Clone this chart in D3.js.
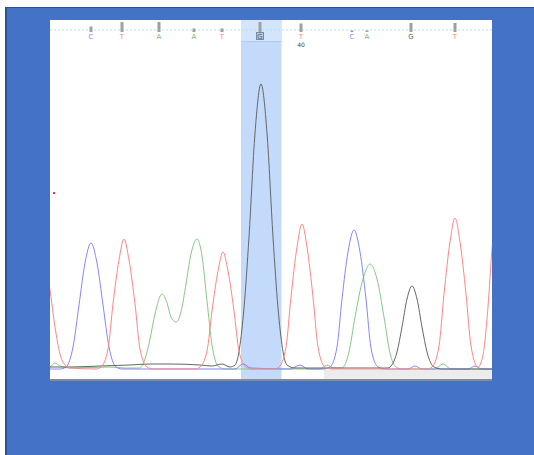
<!DOCTYPE html>
<html>
<head>
<meta charset="utf-8">
<script src="https://cdn.jsdelivr.net/npm/d3@7"></script>
<style>
  html, body { margin: 0; padding: 0; background: #fff; }
  svg { display: block; }
  text { font-family: "DejaVu Sans", sans-serif; }
</style>
</head>
<body>
<div class="plot"></div>
<script>
// base calls along the top
var bases = ["C", "T", "A", "A", "T", "G", "T", "C", "A", "G", "T"];
var basePos = [41, 72, 109, 144, 172, 210, 251, 302, 317, 361, 405];
var baseQual = [22, 40, 40, 14, 14, 40, 34, 6, 6, 36, 36];
var positionLabels = [{index: 6, label: "40"}];
var selectedBase = 5;

// trace key points: [scan, signal]
var traceA = [[-10, 0], [0, 2], [5, 6], [10, 3], [20, 1], [60, 2], [75, 1], [89, 1], [95, 10], [100, 30], [105, 55],
  [112, 75], [117, 66], [121, 52], [126, 47], [131, 57], [136, 85], [141, 115], [147, 130], [152, 113],
  [157, 68], [162, 24], [168, 3], [175, 0], [270, 0], [277, 4], [284, 1], [292, 1], [299, 17], [305, 52],
  [313, 90], [320, 105], [327, 90], [334, 52], [340, 16], [346, 2], [352, 0], [385, 0], [393, 5], [401, 0], [445, 0]];
var traceC = [[-10, 0], [10, 0], [16, 2], [23, 22], [29, 64], [35, 106], [41, 126], [47, 106], [53, 64], [59, 22],
  [66, 2], [72, 0], [185, 0], [193, 5], [201, 1], [240, 0], [250, 4], [258, 0], [274, 0], [280, 2], [287, 22],
  [292, 70], [298, 117], [304, 139], [310, 117], [316, 70], [321, 21], [328, 2], [335, 0], [358, 0],
  [365, 3], [372, 0], [418, 0], [425, 3], [432, 0], [445, 0]];
var traceG = [[-10, 2], [20, 2], [50, 3], [80, 4], [100, 5], [120, 5], [150, 4], [162, 3], [172, 5], [180, 2],
  [185, 4], [194, 61], [199, 132], [205, 236], [211, 285], [217, 236], [223, 132], [228, 61], [237, 4],
  [245, 1], [300, 1], [338, 1], [340, 2], [347, 17], [352, 42], [357, 70], [362, 83], [367, 70], [372, 42],
  [377, 17], [384, 2], [392, 0], [445, 0]];
var traceT = [[-12, 140], [-5, 108], [0, 79], [5, 42], [10, 15], [15, 4], [20, 1], [46, 0], [51, 2], [58, 20],
  [63, 65], [69, 109], [74, 130], [79, 109], [85, 65], [90, 20], [97, 2], [103, 0], [145, 0], [150, 2],
  [157, 18], [162, 58], [168, 98], [173, 117], [178, 98], [184, 58], [189, 18], [196, 2], [202, 0],
  [224, 0], [229, 2], [236, 22], [241, 72], [247, 122], [252, 145], [257, 122], [263, 72], [268, 22],
  [275, 2], [281, 0], [377, 0], [382, 2], [389, 23], [394, 75], [400, 127], [405, 151], [410, 127],
  [416, 75], [421, 23], [428, 2], [433, 14], [438, 62], [442, 120], [448, 160], [454, 120]];

var traces = [
  {name: "A", points: traceA, color: "#86c986"},
  {name: "C", points: traceC, color: "#8686ff"},
  {name: "G", points: traceG, color: "#666666"},
  {name: "T", points: traceT, color: "#ff8585"}
];
var baseColor = {A: "#6cbf6c", C: "#8a8aff", G: "#666666", T: "#ff7f7f"};

var width = 534, height = 455;
var panel = {left: 50, right: 492, top: 20, bottom: 381};

var x = d3.scaleLinear().domain([0, 442]).range([panel.left, panel.right]);
var y = d3.scaleLinear().domain([0, 300]).range([369, 69]);
var q = d3.scaleLinear().domain([0, 40]).range([0, 10]);

var svg = d3.select(".plot").append("svg")
    .attr("width", width)
    .attr("height", height);

// blue frame
svg.append("rect")
    .attr("x", 5).attr("y", 7)
    .attr("width", width - 5).attr("height", height - 7)
    .attr("fill", "#4472c4");
svg.append("rect").attr("x", 5).attr("y", 7).attr("width", 2).attr("height", height - 7).attr("fill", "#2f528f");
svg.append("rect").attr("x", 5).attr("y", 7).attr("width", width - 5).attr("height", 1).attr("fill", "#2f528f");

// white panel
svg.append("rect")
    .attr("x", panel.left).attr("y", panel.top)
    .attr("width", panel.right - panel.left).attr("height", panel.bottom - panel.top)
    .attr("fill", "#fff");

svg.append("clipPath").attr("id", "clip")
  .append("rect")
    .attr("x", panel.left).attr("y", panel.top)
    .attr("width", panel.right - panel.left).attr("height", panel.bottom - panel.top);

// highlighted base column
var hx0 = x((basePos[selectedBase - 1] + basePos[selectedBase]) / 2),
    hx1 = x((basePos[selectedBase] + basePos[selectedBase + 1]) / 2) + 1;
svg.append("rect")
    .attr("x", hx0).attr("y", panel.top)
    .attr("width", hx1 - hx0).attr("height", 360)
    .attr("fill", "#c3dafa");
svg.append("rect")
    .attr("x", hx0).attr("y", panel.top)
    .attr("width", hx1 - hx0).attr("height", 21)
    .attr("fill", "#d3e4fb");
svg.append("line")
    .attr("x1", hx0).attr("x2", hx1)
    .attr("y1", 41.5).attr("y2", 41.5)
    .attr("stroke", "#b3cbec");

// scroll strip and bottom rule
svg.append("rect")
    .attr("x", x(274)).attr("y", 370)
    .attr("width", panel.right - x(274)).attr("height", 9)
    .attr("fill", "#ececec");
svg.append("rect")
    .attr("x", panel.left).attr("y", 379)
    .attr("width", panel.right - panel.left).attr("height", 2)
    .attr("fill", "#8a8a8a");

// dotted header line
svg.append("line")
    .attr("x1", panel.left).attr("x2", panel.right)
    .attr("y1", 30).attr("y2", 30)
    .attr("stroke", "#a6e6ef")
    .attr("stroke-width", 1)
    .attr("stroke-dasharray", "2,2");

// quality bars and letters
var call = svg.selectAll(".call")
    .data(bases)
  .enter().append("g")
    .attr("class", "call")
    .attr("transform", function(d, i) { return "translate(" + x(basePos[i]) + ",0)"; });

call.append("rect")
    .attr("x", -1.5)
    .attr("y", function(d, i) { return 32 - q(baseQual[i]); })
    .attr("width", 3)
    .attr("height", function(d, i) { return q(baseQual[i]); })
    .attr("fill", "#a0a0a0");

call.filter(function(d, i) { return i === selectedBase; })
  .append("rect")
    .attr("x", -3.5).attr("y", 32.5)
    .attr("width", 7).attr("height", 7)
    .attr("fill", "#b3c8e6")
    .attr("stroke", "#7a8aa3");

call.append("text")
    .attr("y", 39)
    .attr("text-anchor", "middle")
    .attr("font-size", 7)
    .attr("fill", function(d) { return baseColor[d]; })
    .text(function(d) { return d; });

svg.selectAll(".pos")
    .data(positionLabels)
  .enter().append("text")
    .attr("class", "pos")
    .attr("x", function(d) { return x(basePos[d.index]); })
    .attr("y", 47)
    .attr("text-anchor", "middle")
    .attr("font-size", 6)
    .attr("fill", "#444")
    .text(function(d) { return d.label; });

// traces
var line = d3.line()
    .x(function(d) { return x(d[0]); })
    .y(function(d) { return y(d[1]); })
    .curve(d3.curveMonotoneX);

svg.append("g")
    .attr("clip-path", "url(#clip)")
  .selectAll(".trace")
    .data(traces)
  .enter().append("path")
    .attr("class", "trace")
    .attr("d", function(d) { return line(d.points); })
    .attr("fill", "none")
    .attr("stroke", function(d) { return d.color; })
    .attr("stroke-width", 1);

// small marker on the left edge
svg.append("rect")
    .attr("x", 53).attr("y", 192)
    .attr("width", 2).attr("height", 2)
    .attr("fill", "#e33");
</script>
</body>
</html>
